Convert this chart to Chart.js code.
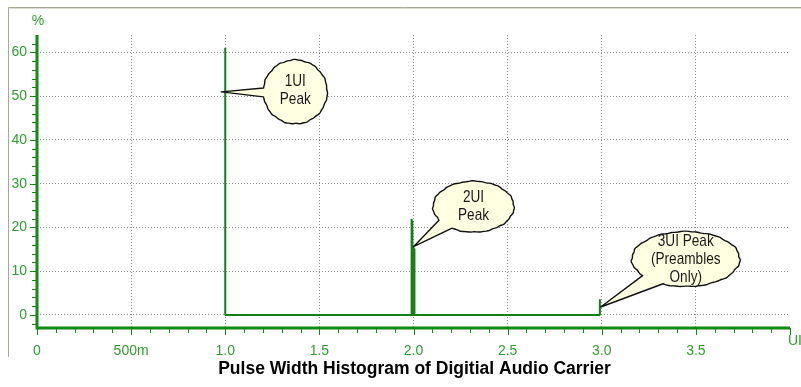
<!DOCTYPE html>
<html>
<head>
<meta charset="utf-8">
<title>Pulse Width Histogram</title>
<script src="https://cdn.jsdelivr.net/npm/chart.js@4.4.1/dist/chart.umd.min.js"></script>
<style>
    html, body { margin: 0; padding: 0; background: #fff; }
    #wrap { width: 801px; height: 387px; }
</style>
</head>
<body>
<div id="wrap"><canvas id="hist" width="801" height="387"></canvas></div>
<script>
// histogram bins: pulse width (UI) and share of pulses (%)
const binUI = [1.0, 1.990, 1.994, 2.000, 2.005, 2.990];
const binPct = [61, 22, 21.5, 15.6, 15.2, 3.6];

// axis ticks
const xTickValues = [0, 0.5, 1.0, 1.5, 2.0, 2.5, 3.0, 3.5];
const xTickLabels = ["0", "500m", "1.0", "1.5", "2.0", "2.5", "3.0", "3.5"];
const yTickValues = [0, 10, 20, 30, 40, 50, 60];
const yTickLabels = ["0", "10", "20", "30", "40", "50", "60"];

// callouts and the point each one points at (UI, %)
const calloutLines = [["1UI", "Peak"], ["2UI", "Peak"], ["3UI Peak", "(Preambles", "Only)"]];
const calloutUI = [1.0, 2.0, 3.0];
const calloutPct = [51, 15.6, 1.8];

const axisGreen = "#108a10";
const lineGreen = "#138214";
const labelGreen = "#2e9e2e";
const gridGrey = "#8c8c8c";
const sansFont = "'Liberation Sans', Arial, sans-serif";

Chart.defaults.font.family = sansFont;

// each bin becomes a vertical spike standing on the zero line
const points = [];
binUI.forEach((x, i) => {
    points.push({ x: x, y: 0 }, { x: x, y: binPct[i] });
    if (i < binUI.length - 1) points.push({ x: x, y: 0 });
});

// bubble shapes, in pixels relative to the point they mark
const bubbleShape = [
    { dx: 70, dy: 0, rx: 32, ry: 32, gapFrom: 171, gapTo: 187, tipDx: -4 },
    { dx: 60, dy: -40, rx: 40.5, ry: 25.5, gapFrom: 122, gapTo: 148, tipDx: 0 },
    { dx: 84, dy: -48, rx: 54, ry: 27.5, gapFrom: 115, gapTo: 143, tipDx: -1 },
];

const frameAndAxes = {
    id: "frameAndAxes",
    beforeDraw(chart) {
        const c = chart.ctx;
        c.save();
        c.lineWidth = 1;
        c.strokeStyle = "#a8a898";
        c.beginPath();
        c.moveTo(8.5, 357);
        c.lineTo(8.5, 7.5);
        c.lineTo(801, 7.5);
        c.stroke();
        c.strokeStyle = "#dedcd2";
        c.beginPath();
        c.moveTo(801, 8.5);
        c.lineTo(9.5, 8.5);
        c.stroke();
        c.restore();
    },
    afterDatasetsDraw(chart) {
        const c = chart.ctx;
        const area = chart.chartArea;
        const xs = chart.scales.x;
        const ys = chart.scales.y;
        c.save();

        // axis lines
        c.strokeStyle = axisGreen;
        c.lineWidth = 3;
        c.beginPath();
        c.moveTo(area.left, area.top);
        c.lineTo(area.left, area.bottom + 1.5);
        c.moveTo(area.left - 1.5, area.bottom);
        c.lineTo(area.right, area.bottom);
        c.stroke();

        // tick marks, major every 10 % / 0.5 UI, minor every 2 % / 0.1 UI
        c.lineWidth = 1;
        c.beginPath();
        for (let v = -2; v <= 62; v += 2) {
            const y = Math.round(ys.getPixelForValue(v)) + 0.5;
            const len = v % 10 === 0 ? 6 : 4;
            c.moveTo(area.left - 1 - len, y);
            c.lineTo(area.left, y);
        }
        for (let k = 0; k <= 40; k++) {
            const x = Math.round(xs.getPixelForValue(k / 10)) + 0.5;
            const len = k % 5 === 0 ? 7 : 5;
            c.moveTo(x, area.bottom);
            c.lineTo(x, area.bottom + len);
        }
        c.stroke();

        // unit labels
        c.fillStyle = labelGreen;
        c.font = "14px " + sansFont;
        c.textBaseline = "middle";
        c.textAlign = "center";
        c.fillText("%", area.left + 1, 21);
        c.textAlign = "left";
        c.fillText("UI", area.right - 2, 341);

        // chart title
        c.fillStyle = "#000";
        c.font = "bold 17.5px " + sansFont;
        c.textAlign = "center";
        c.fillText("Pulse Width Histogram of Digitial Audio Carrier", (area.left + area.right) / 2 + 1, 369);
        c.restore();
    },
};

function bubblePath(c, cx, cy, rx, ry, gapFrom, gapTo, tipX, tipY) {
    const a0 = gapTo * Math.PI / 180;
    const a1 = (gapFrom + 360) * Math.PI / 180;
    const steps = 120;
    c.beginPath();
    for (let i = 0; i <= steps; i++) {
        const t = a0 + (a1 - a0) * i / steps;
        const w = 1 + 0.01 * Math.sin(t * 11) + 0.007 * Math.sin(t * 27 + 0.7);
        const px = cx + rx * w * Math.cos(t);
        const py = cy + ry * w * Math.sin(t);
        if (i === 0) c.moveTo(px, py);
        else c.lineTo(px, py);
    }
    c.lineTo(tipX, tipY);
    c.closePath();
}

const callouts = {
    id: "callouts",
    afterDraw(chart) {
        const c = chart.ctx;
        const xs = chart.scales.x;
        const ys = chart.scales.y;
        calloutLines.forEach((lines, i) => {
            const s = bubbleShape[i];
            const ax = xs.getPixelForValue(calloutUI[i]);
            const ay = ys.getPixelForValue(calloutPct[i]);
            const cx = ax + s.dx;
            const cy = ay + s.dy;
            c.save();
            bubblePath(c, cx, cy, s.rx, s.ry, s.gapFrom, s.gapTo, ax + s.tipDx, ay);
            c.fillStyle = "#ffffe1";
            c.fill();
            c.strokeStyle = "#111";
            c.lineWidth = 1.4;
            c.lineJoin = "round";
            c.stroke();

            // tall, narrow lettering: squeeze a regular face horizontally
            const lh = 18;
            const top = cy - (lines.length - 1) * lh / 2 - (i === 0 ? 2 : 0);
            c.translate(cx, 0);
            c.scale(0.8, 1);
            c.fillStyle = "#1a1a1a";
            c.font = "17px " + sansFont;
            c.textAlign = "center";
            c.textBaseline = "middle";
            lines.forEach((t, j) => c.fillText(t, 0, top + j * lh));
            c.restore();
        });
    },
};

const ctx = document.getElementById("hist").getContext("2d");
const chart = new Chart(ctx, {
    type: "line",
    data: {
        datasets: [
            {
                data: points,
                borderColor: lineGreen,
                borderWidth: 2,
                borderJoinStyle: "bevel",
                pointRadius: 0,
                fill: false,
                tension: 0,
            },
        ],
    },
    options: {
        responsive: false,
        animation: false,
        layout: { padding: { top: 35, right: 11, bottom: 0, left: 0 } },
        plugins: {
            legend: { display: false },
            tooltip: { enabled: false },
        },
        scales: {
            x: {
                type: "linear",
                min: 0,
                max: 4,
                afterBuildTicks: (s) => { s.ticks = xTickValues.map((v) => ({ value: v })); },
                afterFit: (s) => { s.height = 59; },
                grid: { color: gridGrey, lineWidth: 1, drawTicks: false },
                border: { display: false, dash: [1, 2] },
                ticks: {
                    color: labelGreen,
                    font: { size: 14 },
                    padding: 15,
                    maxRotation: 0,
                    autoSkip: false,
                    callback: (v, i) => xTickLabels[i],
                },
            },
            y: {
                min: -3,
                max: 64,
                afterBuildTicks: (s) => { s.ticks = yTickValues.map((v) => ({ value: v })); },
                afterFit: (s) => { s.width = 37; },
                grid: { color: gridGrey, lineWidth: 1, drawTicks: false },
                border: { display: false, dash: [1, 2] },
                ticks: {
                    color: labelGreen,
                    font: { size: 14 },
                    padding: 10,
                    autoSkip: false,
                    callback: (v, i) => yTickLabels[i],
                },
            },
        },
    },
    plugins: [frameAndAxes, callouts],
});
</script>
</body>
</html>
